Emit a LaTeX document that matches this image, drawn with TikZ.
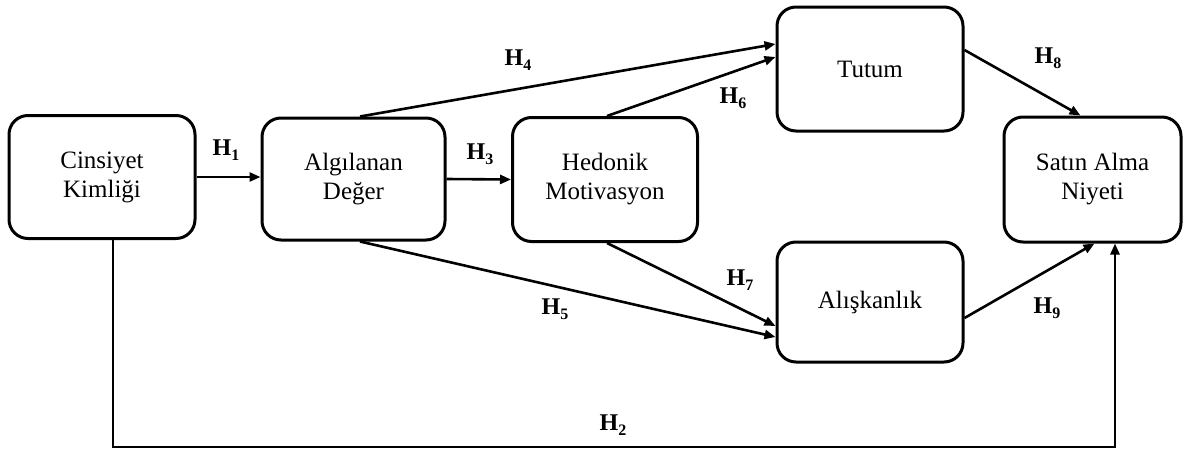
\documentclass[tikz,border=0pt]{standalone}
\usepackage{fontspec}
\setmainfont{Liberation Serif}
\usetikzlibrary{arrows.meta}

% hypothesis label: bold H with a lowered bold digit
\newcommand{\hyp}[1]{\textbf{H\raisebox{-0.22em}{\fontsize{16}{16}\selectfont #1}}}

\begin{document}
\begin{tikzpicture}[x=1pt,y=-1pt,
  construct/.style={draw, line width=3pt, rounded corners=19pt, align=center,
    font=\fontsize{25}{29}\selectfont, inner sep=0pt},
  link/.style={line width=2.6pt, -{Triangle[length=11pt,width=9pt]}},
  hlabel/.style={font=\fontsize{24}{24}\selectfont, inner sep=0pt}]
\path[use as bounding box] (0,0) rectangle (1189,450);

% constructs
\node[construct, minimum width=186pt, minimum height=123pt] (cin) at (102,177) {Cinsiyet\\Kimliği};
\node[construct, minimum width=183pt, minimum height=122pt] (alg) at (353.5,179) {Algılanan\\Değer};
\node[construct, minimum width=185pt, minimum height=124pt] (hed) at (605,179.5) {Hedonik\\Motivasyon};
\node[construct, minimum width=186pt, minimum height=124pt] (tut) at (870,69) {Tutum};
\node[construct, minimum width=186pt, minimum height=120pt] (ali) at (870,302) {Alışkanlık};
\node[construct, minimum width=177pt, minimum height=125pt] (sat) at (1092.5,179.5) {Satın Alma\\Niyeti};

% paths
\draw[link] (cin.east) -- (alg.west |- cin.east);
\draw[link] (alg.east) -- (hed.west);
\draw[link] ([xshift=6.5pt]alg.north) -- ([yshift=25pt]tut.west);
\draw[link] ([xshift=2pt]hed.north) -- ([yshift=12pt]tut.west);
\draw[link] ([xshift=6.5pt]alg.south) -- ([yshift=-35pt]ali.west);
\draw[link] ([xshift=2pt]hed.south) -- ([yshift=-24pt]ali.west);
\draw[link] ([yshift=19pt]tut.east) -- ([xshift=-12pt]sat.north);
\draw[link] ([yshift=-16pt]ali.east) -- ([xshift=2pt]sat.south);
\coordinate (c1) at (113,447);
\coordinate (c2) at (1115,447);
\draw[link] ([xshift=11pt]cin.south) -- (c1) -- (c2) -- ([xshift=22.5pt]sat.south);

% labels
\node[hlabel] (h1) at (226,150) {\hyp{1}};
\node[hlabel] (h2) at (613,425) {\hyp{2}};
\node[hlabel] (h3) at (480,154) {\hyp{3}};
\node[hlabel] (h4) at (518,60) {\hyp{4}};
\node[hlabel] (h5) at (555,309) {\hyp{5}};
\node[hlabel] (h6) at (733,98) {\hyp{6}};
\node[hlabel] (h7) at (740,280) {\hyp{7}};
\node[hlabel] (h8) at (1048,58) {\hyp{8}};
\node[hlabel] (h9) at (1047,308) {\hyp{9}};
\end{tikzpicture}
\end{document}
